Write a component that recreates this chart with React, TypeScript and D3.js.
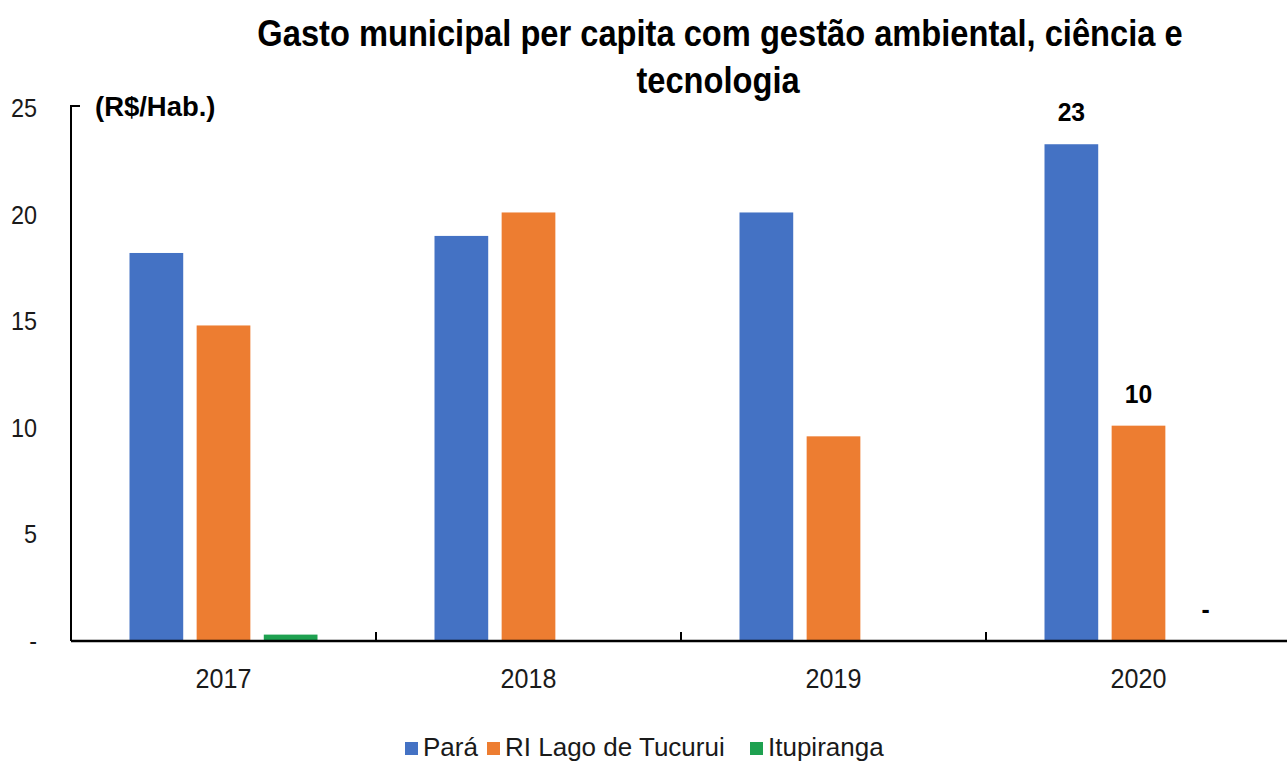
import React from "react";
import * as d3 from "d3";

const categories = ["2017", "2018", "2019", "2020"];
const seriesNames = ["Pará", "RI Lago de Tucurui", "Itupiranga"];
const para = [18.2, 19.0, 20.1, 23.3];
const riLago = [14.8, 20.1, 9.6, 10.1];
const itupiranga = [0.3, 0, 0, 0];
const seriesValues = [para, riLago, itupiranga];
const seriesColors = ["#4472C4", "#ED7D31", "#1EA150"];
const yTicks = [0, 5, 10, 15, 20, 25];
const labelledCategory = "2020";
const titleLines = [
  "Gasto municipal per capita com gestão ambiental, ciência e",
  "tecnologia",
];

const W = 1287;
const H = 765;
const font = "'Liberation Sans', Arial, sans-serif";

function T(props: {
  x: number;
  y: number;
  sx?: number;
  size: number;
  anchor?: string;
  bold?: boolean;
  fill?: string;
  children: React.ReactNode;
}) {
  const { x, y, sx = 1, size, anchor = "start", bold = false, fill = "#1a1a1a", children } = props;
  return (
    <text
      transform={`translate(${x},${y}) scale(${sx},1)`}
      textAnchor={anchor}
      fontSize={size}
      fontWeight={bold ? "bold" : "normal"}
      fill={fill}
    >
      {children}
    </text>
  );
}

export default function App() {
  const x0 = d3.scaleBand().domain(categories).range([71, 1291]).padding(0);
  const x1 = d3
    .scaleBand()
    .domain(seriesNames)
    .range([58.5, 246.5])
    .paddingInner(0.2)
    .paddingOuter(0);
  const y = d3.scaleLinear().domain([0, 25]).range([641, 108]);

  const legendX = [405, 487, 750];

  return (
    <svg
      width={W}
      height={H}
      style={{ position: "absolute", left: 0, top: 0, background: "#fff" }}
      fontFamily={font}
    >
      <rect width={W} height={H} fill="#fff" />
      <T x={720} y={46} sx={0.907} size={36} anchor="middle" bold fill="#000">
        {titleLines[0]}
      </T>
      <T x={718} y={93} sx={0.907} size={36} anchor="middle" bold fill="#000">
        {titleLines[1]}
      </T>
      <T x={95} y={116} sx={0.98} size={28} bold fill="#000">
        (R$/Hab.)
      </T>

      {/* bars */}
      {seriesValues.map((vals, si) =>
        categories.map((c, ci) => {
          const v = vals[ci];
          const bx = (x0(c) as number) + (x1(seriesNames[si]) as number);
          return (
            <rect
              key={`${si}-${ci}`}
              x={bx}
              y={y(v)}
              width={x1.bandwidth()}
              height={y(0) - y(v)}
              fill={seriesColors[si]}
            />
          );
        })
      )}

      {/* data labels for last category */}
      {seriesValues.map((vals, si) => {
        const ci = categories.indexOf(labelledCategory);
        const v = vals[ci];
        const cx =
          (x0(labelledCategory) as number) +
          (x1(seriesNames[si]) as number) +
          x1.bandwidth() / 2;
        return (
          <T key={`lbl-${si}`} x={cx} y={y(v) - 23} sx={0.95} size={26} anchor="middle" bold fill="#000">
            {v === 0 ? "-" : d3.format(".0f")(v)}
          </T>
        );
      })}

      {/* y axis */}
      <path d={`M80,${y(25) - 2}H71V${y(0)}`} fill="none" stroke="#000" strokeWidth={2} />
      {yTicks.map((t) => (
        <T key={t} x={37} y={y(t) + 9} sx={0.9} size={26} anchor="end">
          {t === 0 ? "-" : String(t)}
        </T>
      ))}

      {/* x axis */}
      <line x1={71} x2={W} y1={y(0)} y2={y(0)} stroke="#000" strokeWidth={2.5} />
      {categories.map((c) => (
        <line
          key={`t-${c}`}
          x1={x0(c) as number}
          x2={x0(c) as number}
          y1={y(0)}
          y2={y(0) - 9}
          stroke="#000"
          strokeWidth={2}
        />
      ))}
      {categories.map((c) => (
        <T
          key={`xl-${c}`}
          x={(x0(c) as number) + x0.bandwidth() / 2}
          y={688}
          sx={0.93}
          size={27}
          anchor="middle"
        >
          {c}
        </T>
      ))}

      {/* legend */}
      {seriesNames.map((s, i) => (
        <g key={s}>
          <rect x={legendX[i]} y={742} width={13} height={13} fill={seriesColors[i]} />
          <T x={legendX[i] + 18} y={756} sx={1.0} size={26}>
            {s}
          </T>
        </g>
      ))}
    </svg>
  );
}
